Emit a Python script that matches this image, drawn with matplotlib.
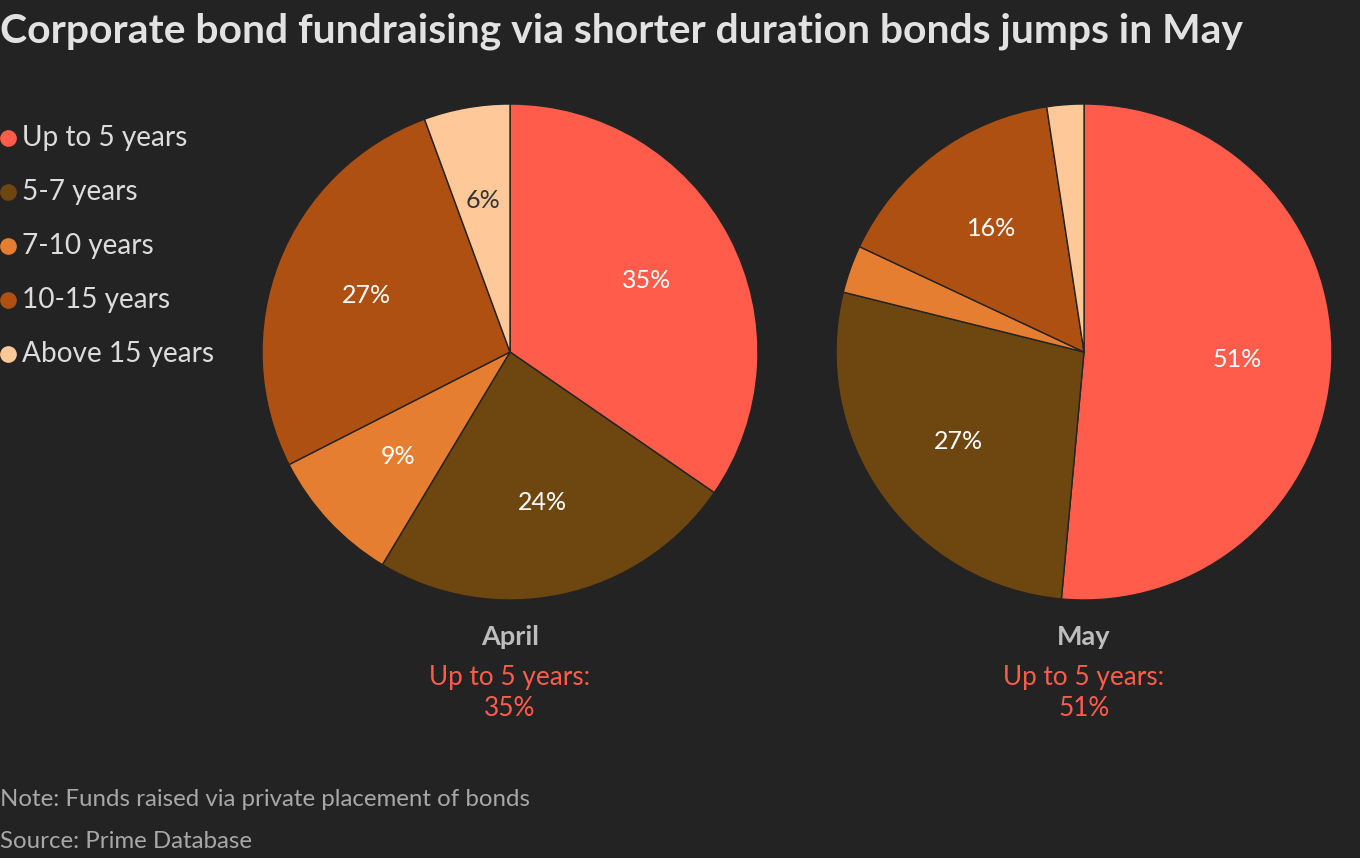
import matplotlib.pyplot as plt
from matplotlib.lines import Line2D

plt.rcParams['font.family'] = ['Lato', 'DejaVu Sans']

categories = ['Up to 5 years', '5-7 years', '7-10 years', '10-15 years', 'Above 15 years']
colors = ['#ff5c4b', '#6e4610', '#e57e30', '#ad5012', '#ffc899']
april = [34.6, 24.0, 8.9, 26.9, 5.6]
may = [51.4, 27.4, 3.1, 15.6, 2.4]
months = ['April', 'May']

bg = '#232323'
fig = plt.figure(figsize=(13.6, 8.58), dpi=100, facecolor=bg)

fig.text(0.0, 0.963, 'Corporate bond fundraising via shorter duration bonds jumps in May',
         color='#e2e2e2', fontsize=29.4, fontweight='bold', va='center', ha='left')

# legend
for i, (cat, col) in enumerate(zip(categories, colors)):
    y = 1 - (138 + 54 * i) / 858
    fig.add_artist(Line2D([8 / 1360], [y], marker='o', markersize=11, color=col,
                          linestyle='none', transform=fig.transFigure))
    fig.text(22 / 1360, y, cat, color='#dcdcdc', fontsize=20.2,
             va='center', ha='left')

centers = [510, 1084]
r = 248
for month, vals, cx in zip(months, [april, may], centers):
    ax = fig.add_axes([(cx - r) / 1360, 1 - (352 + r) / 858, 2 * r / 1360, 2 * r / 858])
    ax.set_facecolor(bg)
    wedges, texts, autotexts = ax.pie(
        vals, colors=colors, startangle=90, counterclock=False,
        autopct=lambda p: f'{p:.0f}%' if p > 5 else '', pctdistance=0.62,
        wedgeprops=dict(edgecolor=bg, linewidth=1),
        textprops=dict(fontsize=18, color='white'))
    for t, c in zip(autotexts, colors):
        if c == '#ffc899':
            t.set_color('#333333')
    ax.set_xlim(-1, 1)
    ax.set_ylim(-1, 1)
    ax.axis('off')
    xf = cx / 1360
    fig.text(xf, 1 - 637 / 858, month, color='#bdbdbd', fontsize=19.5, fontweight='bold',
             ha='center', va='center')
    fig.text(xf, 1 - 677 / 858, 'Up to 5 years:', color='#ff5c4b', fontsize=18.8,
             ha='center', va='center')
    fig.text(xf, 1 - 709 / 858, f'{vals[0]:.0f}%', color='#ff5c4b', fontsize=18.8,
             ha='center', va='center')

fig.text(0.0, 1 - 800 / 858, 'Note: Funds raised via private placement of bonds',
         color='#a8a8a8', fontsize=17.3, ha='left', va='center')
fig.text(0.0, 1 - 841 / 858, 'Source: Prime Database',
         color='#a8a8a8', fontsize=17.3, ha='left', va='center')

fig.savefig('out.png', dpi=100, facecolor=bg)
